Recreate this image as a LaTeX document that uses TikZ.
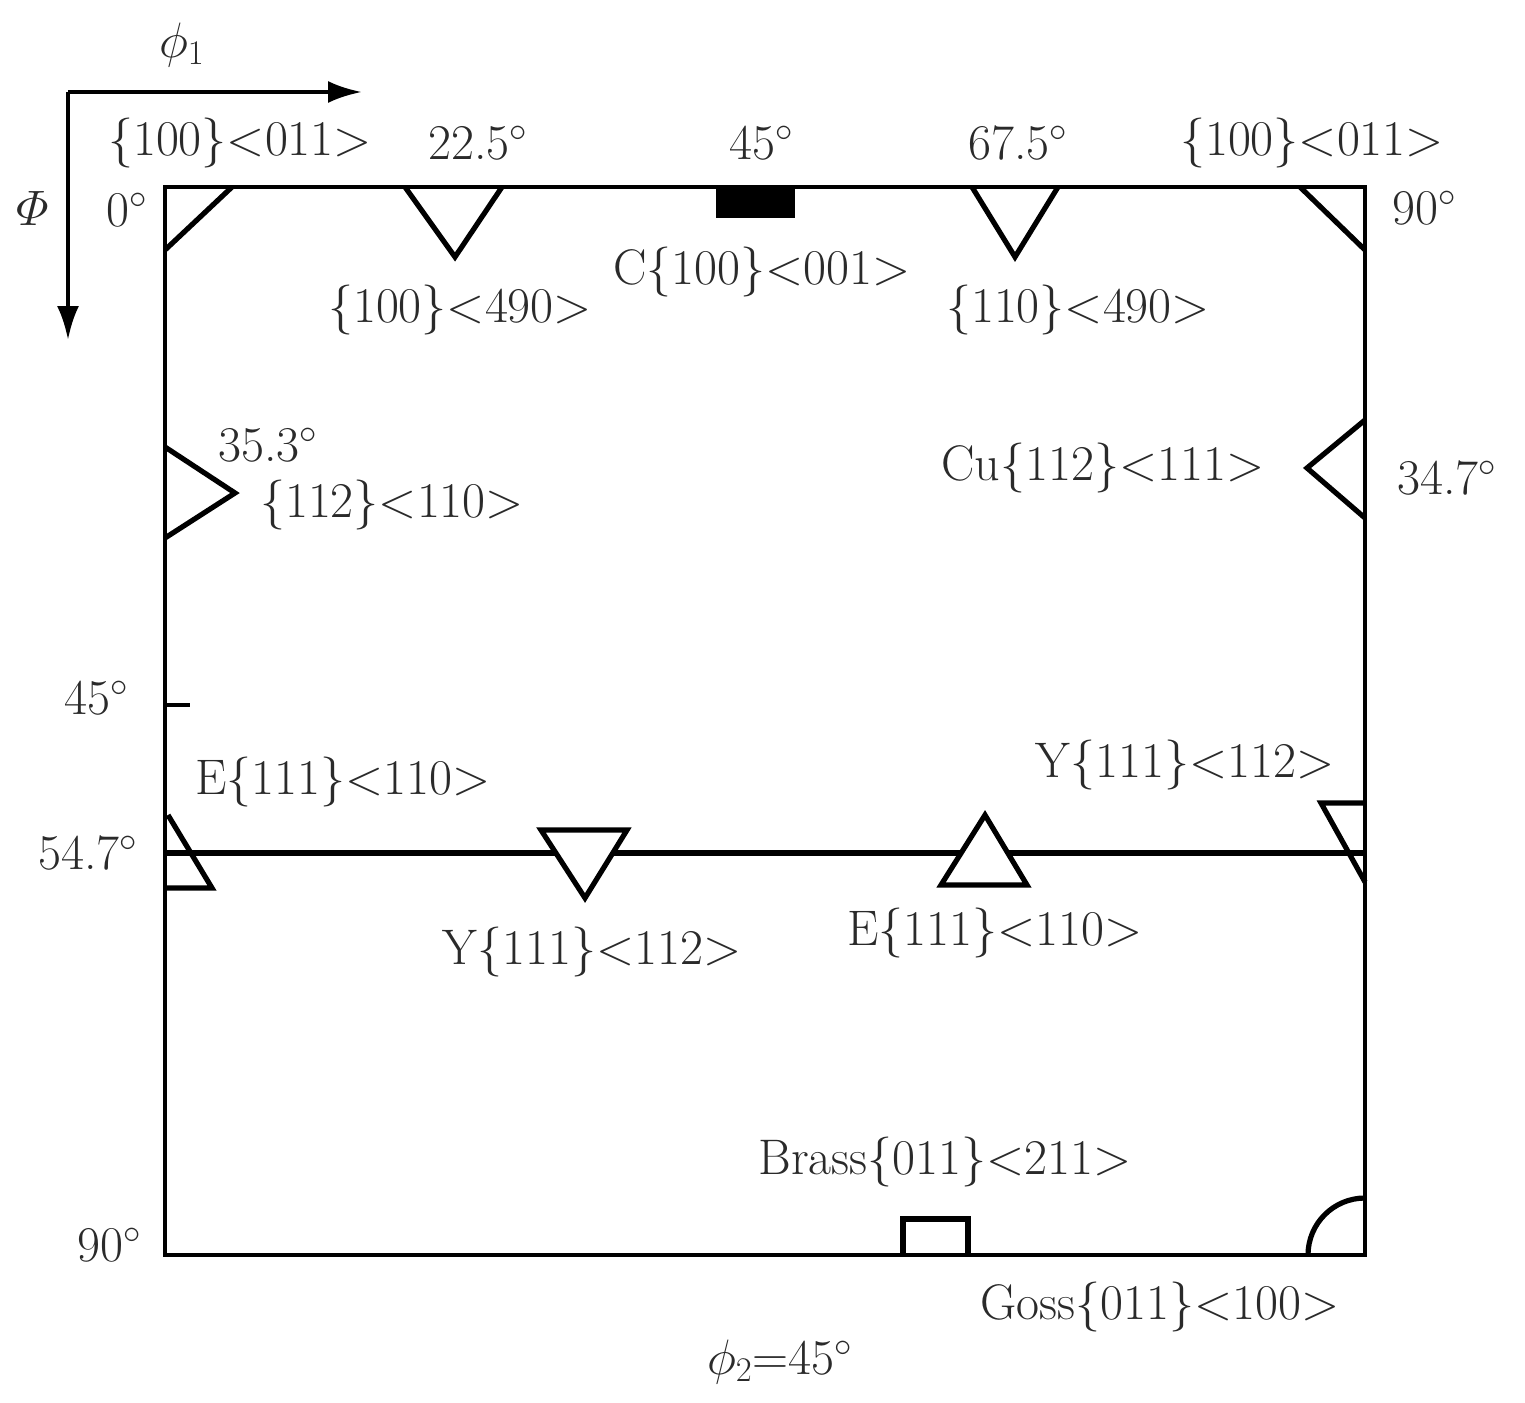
\documentclass[tikz,border=0pt]{standalone}
\usepackage{amsmath}
\usetikzlibrary{arrows.meta}
\definecolor{txt}{HTML}{2A2A2A}
\begin{document}
\begin{tikzpicture}[x=0.5pt,y=-0.5pt,
  lbl/.style={font=\fontsize{25}{30}\selectfont, text=txt, inner sep=0pt},
  frame/.style={line width=2pt, black},
  mk/.style={line width=2.6pt, black, line join=miter},
  ax/.style={line width=2.2pt, black, -{Latex[length=17pt,width=11pt]}}]
\useasboundingbox (0,0) rectangle (1525,1402);
% axes
\coordinate (o) at (68,92);
\coordinate (xe) at (362,92);
\coordinate (ye) at (68,340);
\draw[ax] (o) -- (xe);
\draw[ax] (o) -- (ye);
\node[lbl] (phi1) at (182,45) {$\phi_1$};
\node[lbl] (Phi) at (33,208) {$\varPhi$};
% frame
\coordinate (tl) at (165,187);
\coordinate (br) at (1365,1255);
\draw[frame] (tl) rectangle (br);
% markers
\draw[mk] (165,250) -- (232,187);
\draw[mk] (405,187) -- (455,257) -- (502,187);
\fill[black] (716,187) rectangle (795,218);
\draw[mk] (972,187) -- (1015,257) -- (1058,187);
\draw[mk] (1300,187) -- (1365,250);
\draw[mk] (165,447) -- (235,493) -- (165,538);
\draw[mk] (1365,420) -- (1307,468) -- (1365,518);
\draw[frame] (165,705) -- (190,705);
% 54.7 line
\coordinate (hl) at (165,853);
\coordinate (hr) at (1365,853);
\draw[mk] (hl) -- (hr);
\draw[mk] (168,815) -- (212,888) -- (165,888);
\draw[mk, fill=white] (541,830) -- (627,830) -- (585,898) -- cycle;
\draw[mk, fill=white] (941,885) -- (1027,885) -- (985,815) -- cycle;
\draw[mk] (1365,803) -- (1321,803) -- (1365,882);
% bottom
\draw[mk] (903,1255) -- (903,1219) -- (968,1219) -- (968,1255);
\draw[mk] (1308,1255) arc[start angle=180, end angle=270, radius=57];
% labels
\node[lbl] (l1) at (240,143) {\{100\}<011>};
\node[lbl] (l2) at (478,143) {22.5$^{\circ}$};
\node[lbl] (l3) at (762,143) {45$^{\circ}$};
\node[lbl] (l4) at (1018,143) {67.5$^{\circ}$};
\node[lbl] (l5) at (1312,143) {\{100\}<011>};
\node[lbl] (l6) at (127,210) {0$^{\circ}$};
\node[lbl] (l7) at (1425,208) {90$^{\circ}$};
\node[lbl] (l8) at (460,310) {\{100\}<490>};
\node[lbl] (l9) at (762,272) {C\{100\}<001>};
\node[lbl] (l10) at (1078,310) {\{110\}<490>};
\node[lbl] (l11) at (268,445) {35.3$^{\circ}$};
\node[lbl] (l12) at (392,505) {\{112\}<110>};
\node[lbl] (l13) at (1103,468) {Cu\{112\}<111>};
\node[lbl] (l14) at (1447,478) {34.7$^{\circ}$};
\node[lbl] (l15) at (97,698) {45$^{\circ}$};
\node[lbl] (l16) at (343,782) {E\{111\}<110>};
\node[lbl] (l17) at (88,853) {54.7$^{\circ}$};
\node[lbl] (l18) at (1185,765) {Y\{111\}<112>};
\node[lbl] (l19) at (592,952) {Y\{111\}<112>};
\node[lbl] (l20) at (995,933) {E\{111\}<110>};
\node[lbl] (l21) at (945,1162) {Brass\{011\}<211>};
\node[lbl] (l22) at (110,1245) {90$^{\circ}$};
\node[lbl] (l23) at (1160,1307) {Goss\{011\}<100>};
\node[lbl] (l24) at (780,1362) {$\phi_2$=45$^{\circ}$};
\end{tikzpicture}
\end{document}
